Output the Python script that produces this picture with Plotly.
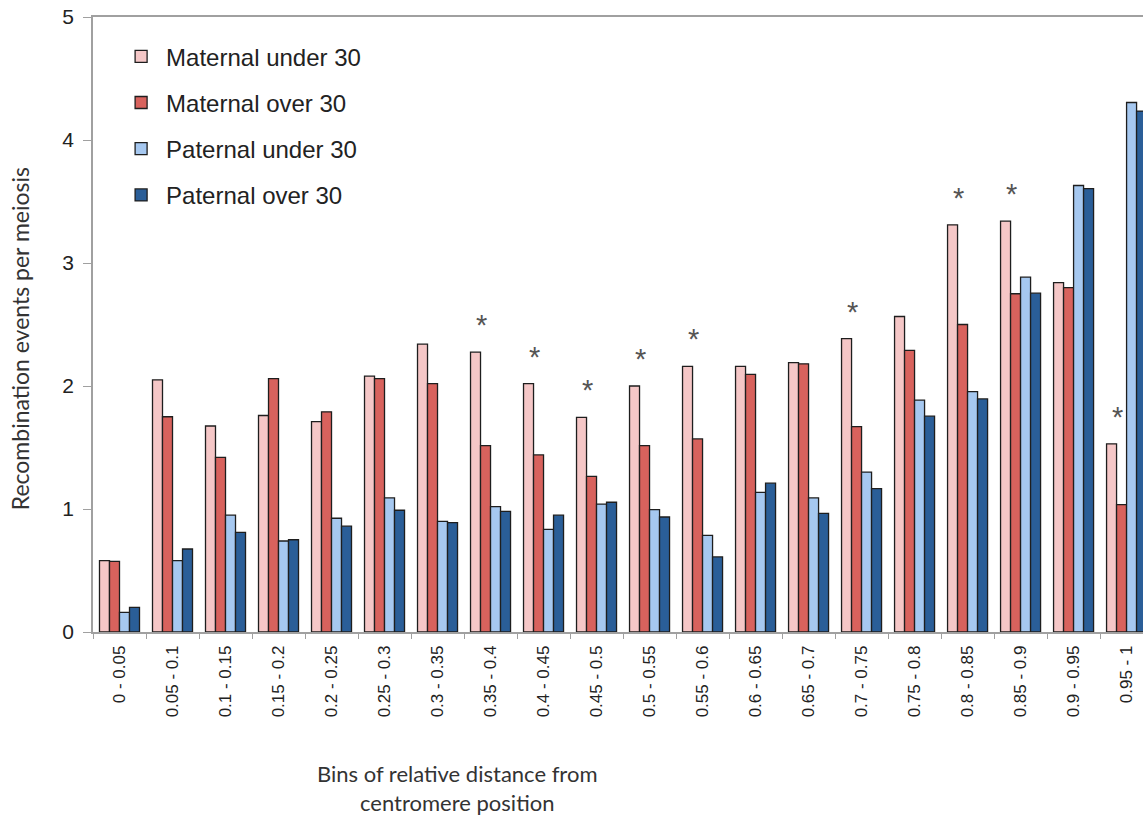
import plotly.graph_objects as go

bins = ["0 - 0.05", "0.05 - 0.1", "0.1 - 0.15", "0.15 - 0.2", "0.2 - 0.25",
        "0.25 - 0.3", "0.3 - 0.35", "0.35 - 0.4", "0.4 - 0.45", "0.45 - 0.5",
        "0.5 - 0.55", "0.55 - 0.6", "0.6 - 0.65", "0.65 - 0.7", "0.7 - 0.75",
        "0.75 - 0.8", "0.8 - 0.85", "0.85 - 0.9", "0.9 - 0.95", "0.95 - 1"]

maternal_under_30 = [0.58, 2.05, 1.675, 1.76, 1.71, 2.08, 2.34, 2.275, 2.02, 1.745,
                     2.00, 2.16, 2.16, 2.19, 2.385, 2.565, 3.31, 3.34, 2.84, 1.53]
maternal_over_30 = [0.575, 1.75, 1.42, 2.06, 1.79, 2.06, 2.02, 1.515, 1.44, 1.265,
                    1.515, 1.57, 2.095, 2.18, 1.67, 2.29, 2.50, 2.75, 2.80, 1.035]
paternal_under_30 = [0.16, 0.58, 0.95, 0.74, 0.925, 1.09, 0.90, 1.02, 0.835, 1.04,
                     0.995, 0.785, 1.135, 1.09, 1.30, 1.885, 1.955, 2.885, 3.63, 4.305]
paternal_over_30 = [0.20, 0.675, 0.81, 0.75, 0.86, 0.99, 0.89, 0.98, 0.95, 1.055,
                    0.935, 0.61, 1.21, 0.965, 1.165, 1.755, 1.895, 2.755, 3.605, 4.235]

significant_bins = ["0.35 - 0.4", "0.4 - 0.45", "0.45 - 0.5", "0.5 - 0.55", "0.55 - 0.6",
                    "0.7 - 0.75", "0.8 - 0.85", "0.85 - 0.9", "0.95 - 1"]

series = [
    ("Maternal under 30", maternal_under_30, "#F5C7C7"),
    ("Maternal over 30", maternal_over_30, "#D8625D"),
    ("Paternal under 30", paternal_under_30, "#A6C8F0"),
    ("Paternal over 30", paternal_over_30, "#2A5E98"),
]

fig = go.Figure()
for i, (name, vals, col) in enumerate(series):
    fig.add_trace(go.Bar(
        x=bins, y=vals, name=name, legendgroup=name,
        marker=dict(color=col, line=dict(color="#1e1e1e", width=1.3)),
    ))

for b in significant_bins:
    v = maternal_under_30[bins.index(b)]
    fig.add_annotation(x=b, y=v, xref="x", yref="y", text="*", showarrow=False,
                       xshift=-9, yshift=27, yanchor="middle",
                       font=dict(family="Liberation Sans, Arial", size=29, color="#555"))

fig.add_annotation(xref="paper", yref="paper", x=0.3467, y=-0.2535,
                   text="Bins of relative distance from<br>centromere position",
                   showarrow=False, xanchor="center", yanchor="middle",
                   font=dict(family="Lato", size=22, color="#333"))
fig.add_annotation(xref="paper", yref="paper", x=0, xshift=-73, y=0.476,
                   text="Recombination events per meiosis", textangle=-90,
                   showarrow=False, xanchor="center", yanchor="middle",
                   font=dict(family="Lato", size=23, color="#333"))

fig.update_layout(
    width=1143, height=815,
    margin=dict(l=93, r=0, t=17, b=183),
    paper_bgcolor="white", plot_bgcolor="white",
    barmode="group", bargap=0.245, bargroupgap=0,
    showlegend=True,
    legend=dict(x=0.022, y=0.972, xanchor="left", yanchor="top",
                font=dict(family="Liberation Sans, Arial", size=24, color="#222"),
                tracegroupgap=12, itemwidth=40, bgcolor="rgba(0,0,0,0)"),
    xaxis=dict(type="category", range=[-0.5, 19.31], tickangle=-90,
               tickson="boundaries", ticks="outside", ticklen=5, tickcolor="#a0a0a0",
               showline=True, linecolor="#a0a0a0", linewidth=1.5, mirror=True,
               showgrid=False, zeroline=False, ticklabelstandoff=5,
               tickfont=dict(family="Liberation Sans, Arial", size=17, color="#222")),
    yaxis=dict(range=[0, 5], dtick=1, ticks="outside", ticklen=8, tickcolor="#a0a0a0",
               showline=True, linecolor="#a0a0a0", linewidth=1.5,
               showgrid=False, zeroline=False, ticklabelstandoff=5,
               tickfont=dict(family="Liberation Sans, Arial", size=21, color="#222")),
)

fig.write_html("out.html", config={"displayModeBar": False},
               post_script="document.body.style.margin='0';document.body.style.overflow='hidden';")
